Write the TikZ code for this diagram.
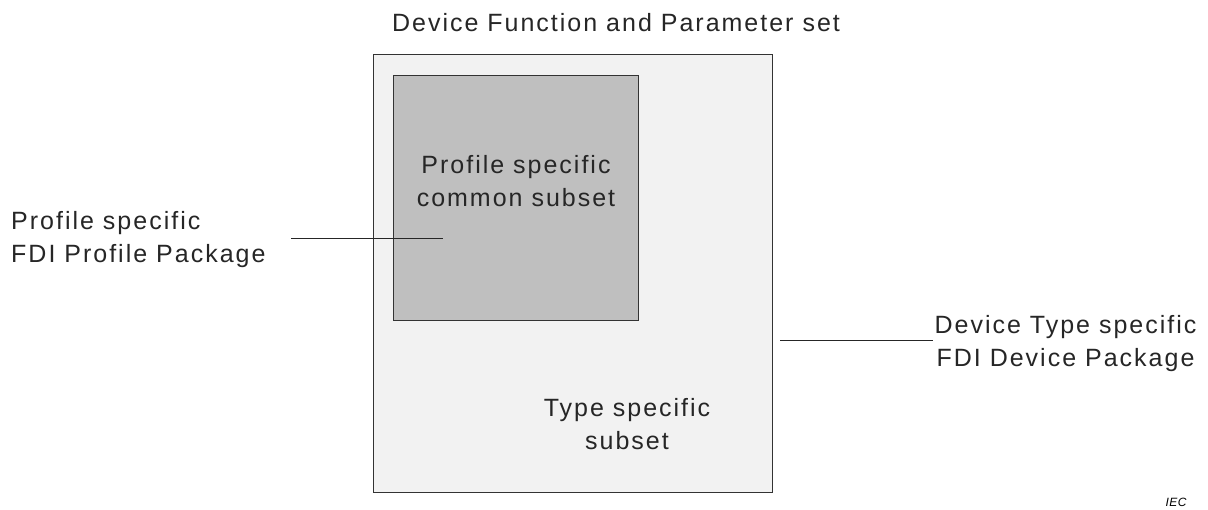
\documentclass[tikz,border=0pt]{standalone}
\usepackage{fontspec}
\setmainfont{Liberation Sans}[LetterSpace=8]
\newfontfamily\smallit{Liberation Sans}[LetterSpace=4]
\begin{document}
\begin{tikzpicture}[x=1pt,y=-1pt,
  lbl/.style={font=\fontsize{25}{33}\selectfont, text=black!85, inner sep=0pt, align=center},
  leader/.style={draw=black!85, line width=0.9pt},
  box/.style={draw=black!80, line width=0.9pt}]
  \useasboundingbox (0,0) rectangle (1208,509);
  % outer set and inner profile subset
  \path[box, fill=black!5] (373,54) rectangle (772,492);
  \path[box, fill=black!25] (393,75) rectangle (638,320);
  % texts
  \node[lbl, anchor=base] (title) at (616,31) {Device Function and Parameter set};
  \node[lbl] (common) at (516,181.5) {Profile specific\\common subset};
  \node[lbl] (type) at (627,424.5) {Type specific\\subset};
  \node[lbl, align=left, anchor=west] (prof) at (11,239.5) {Profile specific\\FDI Profile Package};
  \node[lbl] (dev) at (1065.5,343.5) {Device Type specific\\FDI Device Package};
  \node[font=\smallit\itshape\fontsize{12}{14}\selectfont, inner sep=0pt] (iec) at (1176,502) {IEC};
  % leader lines
  \coordinate (pa) at (291,238);
  \coordinate (pb) at (443,238);
  \coordinate (da) at (780,340);
  \coordinate (db) at (933,340);
  \draw[leader] (pa) -- (pb);
  \draw[leader] (da) -- (db);
\end{tikzpicture}
\end{document}
